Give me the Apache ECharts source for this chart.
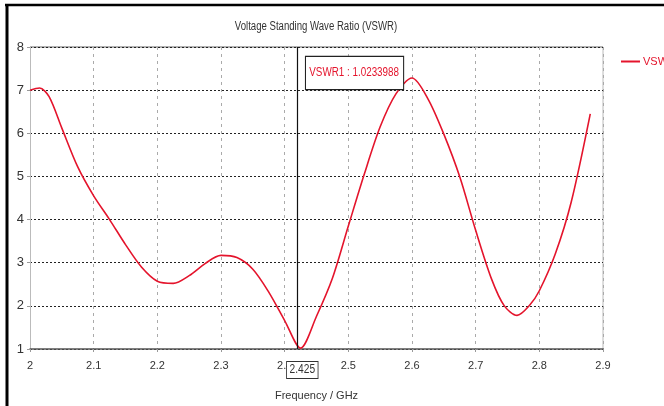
<!DOCTYPE html>
<html>
<head>
<meta charset="utf-8">
<script src="https://cdn.jsdelivr.net/npm/echarts@6/dist/echarts.min.js"></script>
<style>
  html, body { margin: 0; padding: 0; background: #fff; }
  #main { width: 664px; height: 406px; }
</style>
</head>
<body>
<div id="main"></div>
<script>
// frequency points (GHz) and VSWR
const freq = [2.000, 2.015, 2.030, 2.050, 2.075, 2.100, 2.125, 2.150, 2.175, 2.200, 2.225, 2.250, 2.275,
  2.300, 2.325, 2.350, 2.375, 2.400, 2.425, 2.450, 2.475, 2.500, 2.525, 2.550, 2.575, 2.600,
  2.625, 2.650, 2.675, 2.700, 2.725, 2.745, 2.765, 2.785, 2.800, 2.825, 2.850, 2.880];
const vswr = [7.00, 7.05, 6.85, 6.12, 5.22, 4.55, 4.00, 3.42, 2.90, 2.57, 2.52, 2.70, 2.98,
  3.17, 3.12, 2.85, 2.32, 1.66, 1.02, 1.76, 2.64, 3.85, 5.05, 6.15, 6.92, 7.28,
  6.80, 5.98, 4.99, 3.75, 2.62, 2.00, 1.78, 2.02, 2.35, 3.20, 4.40, 6.45];
const markerFreq = 2.425;
const markerText = "VSWR1 : 1.0233988";

const font = "'Liberation Sans', Arial, sans-serif";
const red = "#e4142c";
const chart = echarts.init(document.getElementById("main"));

const option = {
  animation: false,
  grid: { left: 30, right: 61, top: 47, bottom: 57 },
  legend: {
    data: [{ name: "VSWR", icon: "rect" }],
    left: 621, top: 56, padding: 0,
    itemWidth: 19, itemHeight: 2, itemGap: 3,
    textStyle: { color: red, fontSize: 11, fontFamily: font, padding: [0, 0, 0, -2] },
  },
  xAxis: {
    type: "value",
    min: 2, max: 2.9, interval: 0.1,
    name: "Frequency / GHz",
    nameLocation: "middle", nameGap: 41,
    nameTextStyle: { color: "#333", fontSize: 11, fontFamily: font },
    axisLine: { lineStyle: { color: "#555", width: 1.5 } },
    axisTick: { show: true, length: 3, lineStyle: { color: "#999" } },
    axisLabel: { color: "#333", fontSize: 11, fontFamily: font, margin: 11,
      formatter: v => String(+v.toFixed(1)) },
    splitLine: { show: true, lineStyle: { color: "#aaa", type: [3, 4] } },
  },
  yAxis: {
    type: "value",
    min: 1, max: 8, interval: 1,
    axisLine: { show: true, lineStyle: { color: "#bbb" } },
    axisTick: { show: true, length: 3, lineStyle: { color: "#999" } },
    axisLabel: { color: "#333", fontSize: 13, fontFamily: font, margin: 6 },
    splitLine: { show: true, lineStyle: { color: "#222", type: [2, 2] } },
  },
  graphic: [
    // outer frame
    { type: "line", shape: { x1: 5, y1: 5, x2: 664, y2: 5 }, style: { stroke: "#000", lineWidth: 2.5 } },
    { type: "line", shape: { x1: 7, y1: 4, x2: 7, y2: 406 }, style: { stroke: "#000", lineWidth: 3 } },
    // plot box top/right
    { type: "line", shape: { x1: 30, y1: 47, x2: 603, y2: 47 }, style: { stroke: "#999", lineWidth: 1.5 } },
    { type: "line", shape: { x1: 603, y1: 47, x2: 603, y2: 349 }, style: { stroke: "#bbb", lineWidth: 1 } },
    { type: "text", x: 316, y: 21, z: 10, scaleX: 0.8,
      style: { text: "Voltage Standing Wave Ratio (VSWR)", fill: "#333", fontSize: 12, fontFamily: font, textAlign: "center" } },
    { type: "text", x: 306, y: 57, z: 10, scaleX: 0.82,
      style: { text: markerText, fill: red, fontSize: 12, fontFamily: font,
        backgroundColor: "#fff", borderColor: "#222", borderWidth: 1.3, padding: [10, 5, 10, 4] } },
    { type: "text", x: 287, y: 362, z: 10, scaleX: 0.85,
      style: { text: "2.425", fill: "#333", fontSize: 12, fontFamily: font,
        backgroundColor: "#fff", borderColor: "#333", borderWidth: 1, padding: [2, 3, 2, 3] } },
  ],
  series: [
    {
      name: "VSWR",
      type: "line",
      data: freq.map((f, i) => [f, vswr[i]]),
      smooth: 0.3,
      showSymbol: false,
      lineStyle: { color: red, width: 1.6 },
      itemStyle: { color: red },
      markLine: {
        silent: true,
        symbol: "none",
        label: { show: false },
        lineStyle: { color: "#111", type: "solid", width: 1.2 },
        data: [{ xAxis: markerFreq }],
      },
    },
  ],
};

chart.setOption(option);
</script>
</body>
</html>
